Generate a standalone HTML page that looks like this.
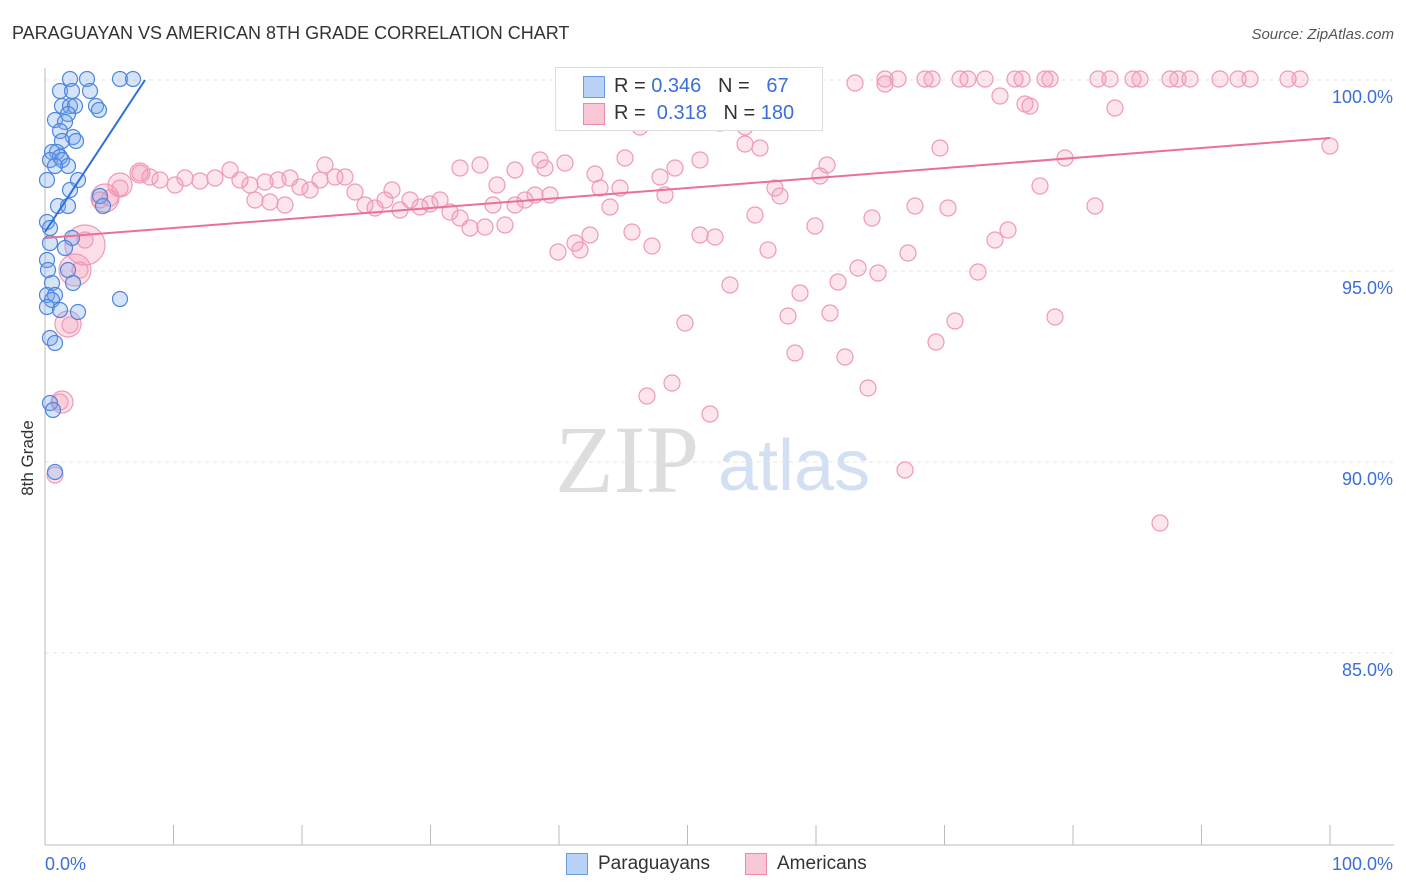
<!DOCTYPE html>
<html><head><meta charset="utf-8"><style>
body{margin:0;background:#fff;font-family:"Liberation Sans",sans-serif;}
#wrap{position:relative;width:1406px;height:892px;overflow:hidden}
</style></head><body>
<div id="wrap">
<svg id="svg" width="1406" height="892" xmlns="http://www.w3.org/2000/svg">
<text x="12" y="39" font-size="18" fill="#333">PARAGUAYAN VS AMERICAN 8TH GRADE CORRELATION CHART</text>
<text x="1394" y="39" font-size="15" fill="#555" font-style="italic" text-anchor="end">Source: ZipAtlas.com</text>
<text x="33" y="458" font-size="17" fill="#333" transform="rotate(-90 33 458)" text-anchor="middle">8th Grade</text>
<text x="555" y="492" font-size="96" fill="#ddd" font-family="Liberation Serif">ZIP</text>
<text x="718" y="490" font-size="72" fill="#d3e0f3">atlas</text>
<g id="grid"></g><g id="pts"></g><g id="lines"></g>
</svg>
<div style="position:absolute;left:555px;top:67px;width:266px;height:62px;border:1px solid #ddd;background:#fff;font-size:20px;color:#333">
 <div style="position:absolute;left:27px;top:8px;width:20px;height:20px;background:#b8d3f5;border:1px solid #6a9be0"></div>
 <div style="position:absolute;left:58px;top:7px">R = <span style="color:#3a6fd8">0.346</span>&nbsp;&nbsp;&nbsp;N = &nbsp;&nbsp;<span style="color:#3a6fd8">67</span></div>
 <div style="position:absolute;left:27px;top:35px;width:20px;height:20px;background:#f9c7d6;border:1px solid #e88aa8"></div>
 <div style="position:absolute;left:58px;top:34px">R = &nbsp;<span style="color:#3a6fd8">0.318</span>&nbsp;&nbsp;&nbsp;N = <span style="color:#3a6fd8">180</span></div>
</div>
<div style="position:absolute;left:566px;top:853px;width:20px;height:20px;background:#b8d3f5;border:1px solid #6a9be0"></div>
<div style="position:absolute;left:598px;top:853px;font-size:19px;color:#333">Paraguayans</div>
<div style="position:absolute;left:745px;top:853px;width:20px;height:20px;background:#f9c7d6;border:1px solid #e88aa8"></div>
<div style="position:absolute;left:777px;top:853px;font-size:19px;color:#333">Americans</div>
</div>
<script>
const yTicks=[100,95,90,85];
const yTickLabels=["100.0%","95.0%","90.0%","85.0%"];
const bluePx=[[70,79],[87,79],[120,79],[133,79],[60,91],[72,91],[90,91],[62,106],[70,106],[75,106],[96,106],[99,110],[68,114],[55,120],[65,122],[60,131],[73,137],[62,141],[76,141],[52,152],[57,152],[60,157],[50,160],[62,160],[68,166],[55,166],[47,180],[78,180],[70,190],[100,196],[58,206],[68,206],[103,206],[47,222],[50,228],[72,238],[65,248],[50,243],[47,260],[48,270],[68,270],[73,283],[52,283],[47,295],[55,295],[52,300],[120,299],[47,307],[60,310],[78,312],[50,338],[55,343],[50,403],[53,410],[55,472]];
const pinkPx=[[806,79],[855,83],[885,79],[898,79],[925,79],[932,79],[960,79],[968,79],[985,79],[1015,79],[1022,79],[1045,79],[1050,79],[1098,79],[1110,79],[1133,79],[1140,79],[1170,79],[1178,79],[1190,79],[1220,79],[1238,79],[1250,79],[1288,79],[1300,79],[885,84],[1000,96],[1025,104],[1030,106],[1115,108],[640,127],[745,127],[720,123],[745,144],[760,148],[940,148],[1330,146],[625,158],[700,160],[540,160],[565,163],[480,165],[460,168],[325,165],[827,165],[1065,158],[515,170],[545,168],[595,174],[660,177],[675,168],[820,176],[775,188],[780,196],[1040,186],[497,185],[600,188],[620,188],[140,173],[150,177],[160,180],[175,185],[185,178],[200,181],[215,178],[230,170],[240,180],[250,185],[265,182],[278,180],[290,178],[300,187],[310,190],[320,180],[335,177],[345,177],[355,192],[365,205],[375,208],[385,200],[392,190],[400,210],[410,200],[420,207],[430,204],[440,200],[450,212],[460,218],[470,228],[485,227],[493,205],[505,225],[515,205],[525,200],[535,195],[550,195],[610,207],[665,195],[700,235],[715,237],[755,215],[815,226],[872,218],[915,206],[948,208],[1095,206],[1008,230],[995,240],[575,243],[558,252],[580,250],[590,235],[632,232],[652,246],[768,250],[908,253],[858,268],[838,282],[878,273],[978,272],[730,285],[800,293],[788,316],[830,313],[685,323],[955,321],[1055,317],[795,353],[845,357],[936,342],[672,383],[647,396],[868,388],[710,414],[905,470],[1160,523],[85,240],[80,270],[70,325],[60,402],[55,475],[100,200],[110,198],[120,188],[255,200],[270,202],[285,205]];
const bigPink=[[105,198,14],[120,185,12],[85,245,20],[75,270,16],[68,324,13],[62,402,11],[140,173,10]];
const X0=45,X1=1330,Y100=80,YPER=38.2;
const xS=v=>X0+(X1-X0)*v/100, yS=v=>Y100+(100-v)*YPER;
const toX=p=>(p-X0)/(X1-X0)*100, toY=p=>100-(p-Y100)/YPER;
const blue=bluePx.map(p=>[toX(p[0]),toY(p[1])]);
const pink=pinkPx.map(p=>[toX(p[0]),toY(p[1])]);
const NS="http://www.w3.org/2000/svg";
function mk(t,a,parent){const e=document.createElementNS(NS,t);for(const k in a)e.setAttribute(k,a[k]);document.getElementById(parent).appendChild(e);return e;}
yTicks.forEach((v,i)=>{
 const l=mk('line',{x1:45,x2:1394,y1:yS(v),y2:yS(v),stroke:'#e4e4e4','stroke-dasharray':'4,4'},'grid');
 
 
 const t=mk('text',{x:1393,y:yS(v)+23,'font-size':18,fill:'#3a6fd8','text-anchor':'end'},'grid');
 t.textContent=yTickLabels[i];
 
 
});
const ax=mk('line',{x1:45,x2:45,y1:68,y2:845,stroke:'#bbb'},'grid');


const bx=mk('line',{x1:45,x2:1394,y1:845,y2:845,stroke:'#bbb'},'grid');


for(let i=0;i<=10;i++){const tk=mk('line',{x1:xS(i*10),x2:xS(i*10),y1:825,y2:845,stroke:'#bbb'},'grid');
 
 }
[["0.0%",45,'start'],["100.0%",1393,'end']].forEach(a=>{const t=mk('text',{x:a[1],y:870,'font-size':18,fill:'#3a6fd8','text-anchor':a[2]},'grid');t.textContent=a[0];
 
 });
pink.forEach(p=>{const c=mk('circle',{cx:xS(p[0]),cy:yS(p[1]),r:8,fill:'rgba(244,150,180,0.25)',stroke:'#ef9ab6','stroke-width':1.2},'pts');
 
 });
bigPink.forEach(p=>{const c=mk('circle',{cx:p[0],cy:p[1],r:p[2],fill:'rgba(244,150,180,0.3)',stroke:'#ef9ab6','stroke-width':1.2},'pts');
 
 });
blue.forEach(p=>{const c=mk('circle',{cx:xS(p[0]),cy:yS(p[1]),r:7.5,fill:'rgba(120,165,235,0.3)',stroke:'#4f86de','stroke-width':1.2},'pts');
 
 });
const tb=mk('line',{x1:xS(0),y1:yS(toY(232)),x2:xS(toX(145)),y2:yS(100),stroke:'#2f6fdc','stroke-width':2},'lines');


const tp=mk('line',{x1:xS(0),y1:yS(toY(238)),x2:xS(100),y2:yS(toY(138)),stroke:'#e9709a','stroke-width':2},'lines');


</script>
</body></html>
